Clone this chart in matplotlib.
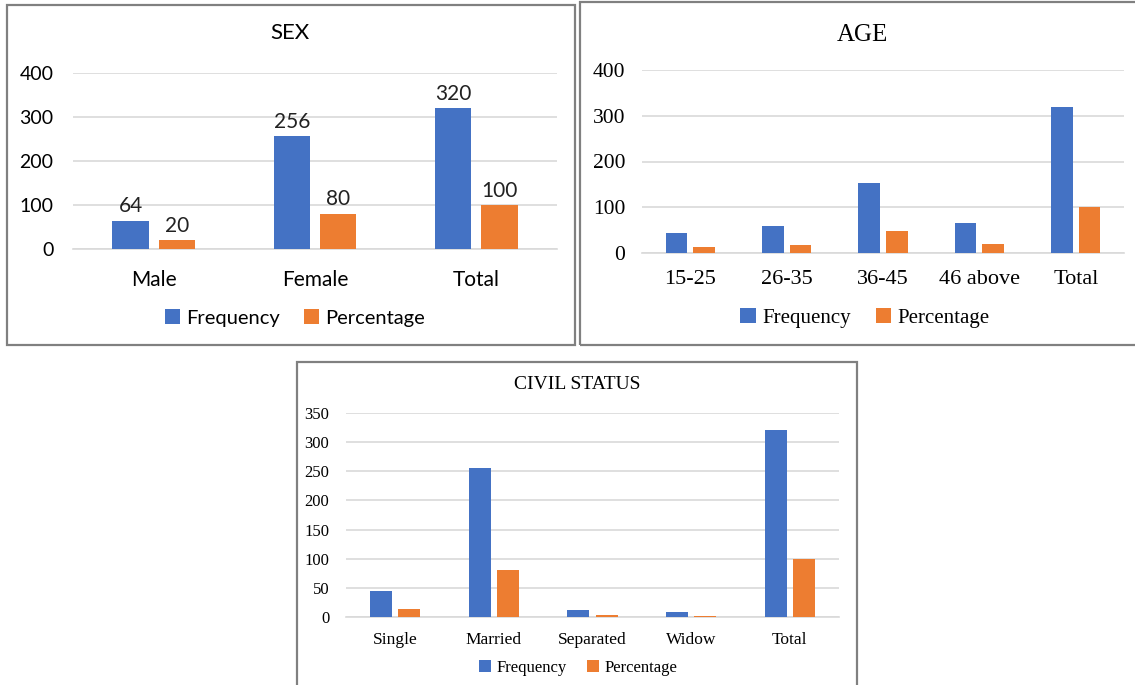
import numpy as np
import matplotlib
matplotlib.use("Agg")
import matplotlib.pyplot as plt
from matplotlib.patches import Rectangle

# Data
sex_cats = ["Male", "Female", "Total"]
sex_freq = [64, 256, 320]
sex_pct = [20, 80, 100]

age_cats = ["15-25", "26-35", "36-45", "46 above", "Total"]
age_freq = [43, 58, 154, 65, 320]
age_pct = [13.4, 18.1, 48.1, 20.3, 100]

civil_cats = ["Single", "Married", "Separated", "Widow", "Total"]
civil_freq = [44, 256, 12, 8, 320]
civil_pct = [13.75, 80, 3.75, 2.5, 100]

BLUE = "#4472C4"
ORANGE = "#ED7D31"
GRID = "#D9D9D9"
W, H = 1135, 685

fig = plt.figure(figsize=(W / 100, H / 100), dpi=100)


def px_axes(x0, y0, x1, y1):
    # pixel box (top-left origin) -> figure axes
    return fig.add_axes([x0 / W, 1 - y1 / H, (x1 - x0) / W, (y1 - y0) / H])


def box(x0, y0, x1, y1):
    fig.add_artist(Rectangle((x0 / W, 1 - y1 / H), (x1 - x0) / W, (y1 - y0) / H,
                             transform=fig.transFigure, fill=False,
                             edgecolor="#808080", linewidth=1.6))


def panel(ax, cats, freq, pct, ymax, step, font, tfs, cfs, ypad, xpad, labels=False, lfs=13):
    x = np.arange(len(cats))
    bw, off = 0.225, 0.143
    b1 = ax.bar(x - off, freq, bw, color=BLUE, label="Frequency", zorder=3)
    b2 = ax.bar(x + off, pct, bw, color=ORANGE, label="Percentage", zorder=3)
    ax.set_xlim(-0.5, len(cats) - 0.5)
    ax.set_ylim(0, ymax)
    ax.set_yticks(np.arange(0, ymax + 1, step))
    ax.set_xticks(x)
    ax.set_xticklabels(cats, family=font, fontsize=cfs)
    for t in ax.get_yticklabels():
        t.set_family(font)
        t.set_fontsize(tfs)
    ax.tick_params(length=0)
    ax.tick_params(axis="y", pad=ypad)
    ax.tick_params(axis="x", pad=xpad)
    ax.grid(axis="y", color=GRID, linewidth=1.2, zorder=0)
    for s in ["top", "right", "left"]:
        ax.spines[s].set_visible(False)
    ax.spines["bottom"].set_color(GRID)
    ax.spines["bottom"].set_linewidth(1.2)
    if labels:
        for bars in (b1, b2):
            for r in bars:
                ax.text(r.get_x() + r.get_width() / 2, r.get_height() + 10,
                        "%d" % r.get_height(), ha="center", va="bottom",
                        family=font, fontsize=lfs, color="#222222")
    return b1, b2


def legend(handles, cx, cy, font, fs):
    fig.legend(handles, ["Frequency", "Percentage"], loc="center",
               bbox_to_anchor=(cx / W, 1 - cy / H), ncol=2, frameon=False,
               prop={"family": font, "size": fs}, handlelength=0.75,
               handleheight=0.75, handletextpad=0.3, columnspacing=1.2)


# SEX panel
box(7, 5, 575, 345)
ax1 = px_axes(73, 73, 557, 249)
h = panel(ax1, sex_cats, sex_freq, sex_pct, 400, 100, "Lato", 14, 15, 14, 15,
          labels=True, lfs=15)
fig.text(290 / W, 1 - 33 / H, "SEX", ha="center", va="center",
         family="Lato", fontsize=16)
legend(h, 295, 318, "Lato", 14.5)

# AGE panel
box(580, 2, 1140, 345)
ax2 = px_axes(642, 70, 1124, 253)
h = panel(ax2, age_cats, age_freq, age_pct, 400, 100, "Liberation Serif", 15.5, 16, 12, 12)
fig.text(862 / W, 1 - 35 / H, "AGE", ha="center", va="center",
         family="Liberation Serif", fontsize=18)
legend(h, 865, 318, "Liberation Serif", 15)

# CIVIL STATUS panel
box(297, 362, 857, 690)
ax3 = px_axes(346, 413, 839, 617)
h = panel(ax3, civil_cats, civil_freq, civil_pct, 350, 50, "Liberation Serif", 12, 12.5, 12, 11)
fig.text(577 / W, 1 - 384 / H, "CIVIL STATUS", ha="center", va="center",
         family="Liberation Serif", fontsize=14)
legend(h, 578, 668, "Liberation Serif", 12)

fig.savefig("out.png", dpi=100)
